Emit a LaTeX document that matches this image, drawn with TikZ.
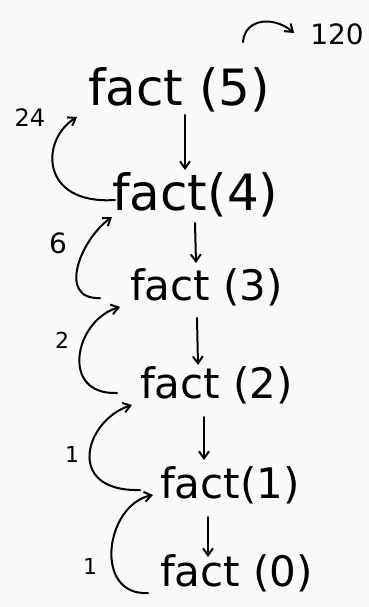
\documentclass[tikz,border=0pt]{standalone}
\usepackage{fontspec}
\setmainfont{DejaVu Sans}
\usetikzlibrary{arrows.meta}
\begin{document}
\begin{tikzpicture}[x=1pt,y=-1pt,
  factnode/.style={font=\fontsize{#1}{#1}\selectfont, anchor=west, inner sep=0pt},
  lab/.style={font=\fontsize{#1}{#1}\selectfont, inner sep=0pt},
  arr/.style={-{Straight Barb[length=7pt,width=10pt]}, line width=2pt, line cap=round}]
\fill[black!2] (0,0) rectangle (369,607);
\useasboundingbox (0,0) rectangle (369,607);
% calls
\node[factnode=50] (f5) at (88,90) {fact (5)};
\node[factnode=50] (f4) at (112,195) {fact(4)};
\node[factnode=42] (f3) at (130,287) {fact (3)};
\node[factnode=42] (f2) at (140,385) {fact (2)};
\node[factnode=42] (f1) at (160,485) {fact(1)};
\node[factnode=42] (f0) at (160,573) {fact (0)};
% labels
\node[lab=24] (l24) at (30,118) {24};
\node[lab=28] (l6) at (58,243) {6};
\node[lab=22] (l2) at (62,340) {2};
\node[lab=22] (l1a) at (72,454) {1};
\node[lab=22] (l1b) at (90,566) {1};
\node[lab=28] (n120) at (337,34) {120};
% calls downwards
\draw[arr] ([shift={(97,25)}]f5.west) -- ([shift={(73,-25)}]f4.west);
\draw[arr] ([shift={(83,28)}]f4.west) -- ([shift={(66,-24)}]f3.west);
\draw[arr] ([shift={(67,31)}]f3.west) -- ([shift={(58,-20)}]f2.west);
\draw[arr] ([shift={(64,32)}]f2.west) -- ([shift={(44,-25)}]f1.west);
\draw[arr] ([shift={(48,32)}]f1.west) -- ([shift={(48,-16)}]f0.west);
% returns
\draw[arr] ([shift={(3,5)}]f4.west) .. controls +(-75,5) and +(-37,23) .. ([shift={(-11,27)}]f5.west);
\draw[arr] ([shift={(-30,11)}]f3.west) .. controls +(-43,2) and +(-32,23) .. ([shift={(0,22)}]f4.west);
\draw[arr] ([shift={(-23,8)}]f2.west) .. controls +(-58,2) and +(-45,13) .. ([shift={(-10,20)}]f3.west);
\draw[arr] ([shift={(-20,5)}]f1.west) .. controls +(-76,2) and +(-47,15) .. ([shift={(-8,20)}]f2.west);
\draw[arr] ([shift={(-12,20)}]f0.west) .. controls +(-55,3) and +(-48,10) .. ([shift={(-7,10)}]f1.west);
\draw[arr] ([shift={(155,-48)}]f5.west) .. controls +(2,-24) and +(-20,-17) .. ([shift={(-16,-1)}]n120.west);
\end{tikzpicture}
\end{document}
